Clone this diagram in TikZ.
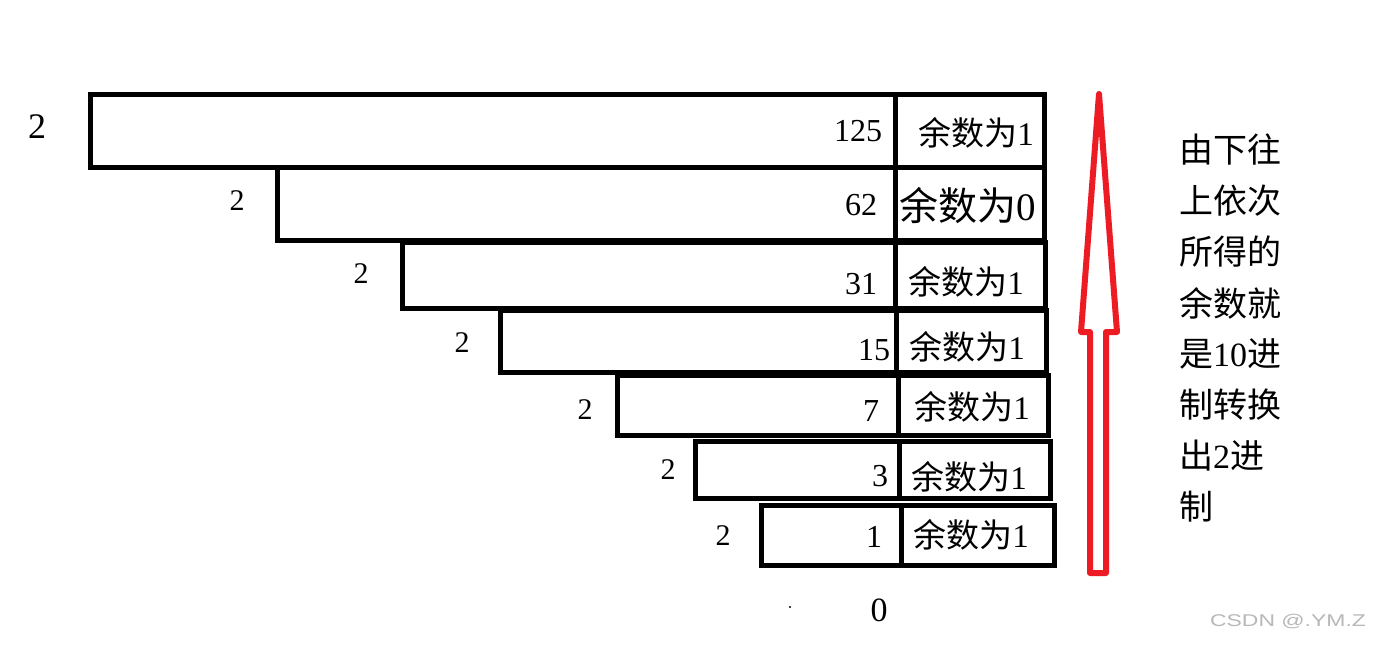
\documentclass[tikz,border=0pt]{standalone}
\usepackage{fontspec}
\usepackage{graphicx}
\setmainfont{Liberation Serif}
\newfontfamily\cjk{Noto Sans CJK SC}
\newfontfamily\wmfont{Liberation Sans}
\definecolor{arrowred}{HTML}{ED1C24}
\begin{document}
\begin{tikzpicture}[x=1pt,y=-1pt,
  box/.style={line width=5pt, line join=miter, line cap=rect},
  divisor/.style={inner sep=0pt, font=\fontsize{30}{30}\selectfont},
  quot/.style={inner sep=0pt, font=\fontsize{32}{32}\selectfont},
  rem/.style={inner sep=0pt, font=\fontsize{33}{33}\selectfont},
  note/.style={inner sep=0pt, anchor=west, font=\fontsize{34}{34}\selectfont},
  arrowline/.style={line width=6pt, draw=arrowred, line join=round},
  wm/.style={inner sep=0pt, text=black!28, font=\wmfont\fontsize{17}{17}\selectfont}
]
\useasboundingbox (0,0) rectangle (1376,645);
\fill[white] (0,0) rectangle (1376,645);

% boxes: left, top, right, bottom, divider
\draw[box] (90,94) rectangle (1044,167);   \draw[box] (895,94) -- (895,167);
\draw[box] (277,167) rectangle (1044,240); \draw[box] (895,167) -- (895,240);
\draw[box] (402,242) rectangle (1045,308); \draw[box] (895,242) -- (895,308);
\draw[box] (500,310) rectangle (1046,372); \draw[box] (896,310) -- (896,372);
\draw[box] (617,375) rectangle (1048,435); \draw[box] (898,375) -- (898,435);
\draw[box] (695,441) rectangle (1050,498); \draw[box] (899,441) -- (899,498);
\draw[box] (761,505) rectangle (1054,565); \draw[box] (901,505) -- (901,565);

% divisors
\node[divisor, font=\fontsize{36}{36}\selectfont] (d1) at (37,127) {2};
\node[divisor] (d2) at (237,201) {2};
\node[divisor] (d3) at (361,274) {2};
\node[divisor] (d4) at (462,343) {2};
\node[divisor] (d5) at (585,410) {2};
\node[divisor] (d6) at (668,470) {2};
\node[divisor] (d7) at (723,536) {2};

% quotients
\node[quot] (q1) at (858,131) {125};
\node[quot] (q2) at (861,205) {62};
\node[quot] (q3) at (861,284) {31};
\node[quot] (q4) at (874,350) {15};
\node[quot] (q5) at (871,411) {7};
\node[quot] (q6) at (880,476) {3};
\node[quot] (q7) at (874,537) {1};
\node[quot, font=\fontsize{34}{34}\selectfont] (q8) at (879,610) {0};
\fill (790,607) circle (1.2);

% remainders
\node[rem] (r1) at (976,133) {{\cjk 余数为}1};
\node[rem, font=\fontsize{39}{39}\selectfont] (r2) at (968,206) {{\cjk 余数为}0};
\node[rem] (r3) at (966,282) {{\cjk 余数为}1};
\node[rem] (r4) at (967,347) {{\cjk 余数为}1};
\node[rem] (r5) at (972,407) {{\cjk 余数为}1};
\node[rem] (r6) at (969,477) {{\cjk 余数为}1};
\node[rem] (r7) at (971,535) {{\cjk 余数为}1};

% red arrow
\draw[arrowline] (1099,94) -- (1117,332) -- (1106,332) -- (1106,573)
  -- (1090,573) -- (1090,332) -- (1081,332) -- cycle;

% explanation
\node[note] (n1) at (1179,150) {\cjk 由下往};
\node[note] (n2) at (1179,201) {\cjk 上依次};
\node[note] (n3) at (1179,252) {\cjk 所得的};
\node[note] (n4) at (1179,303) {\cjk 余数就};
\node[note] (n5) at (1179,354) {{\cjk 是}10{\cjk 进}};
\node[note] (n6) at (1179,405) {\cjk 制转换};
\node[note] (n7) at (1179,456) {{\cjk 出}2{\cjk 进}};
\node[note] (n8) at (1179,507) {\cjk 制};

% watermark
\node[wm] (w) at (1288,622) {\scalebox{1.35}[1]{CSDN @.YM.Z}};
\end{tikzpicture}
\end{document}
